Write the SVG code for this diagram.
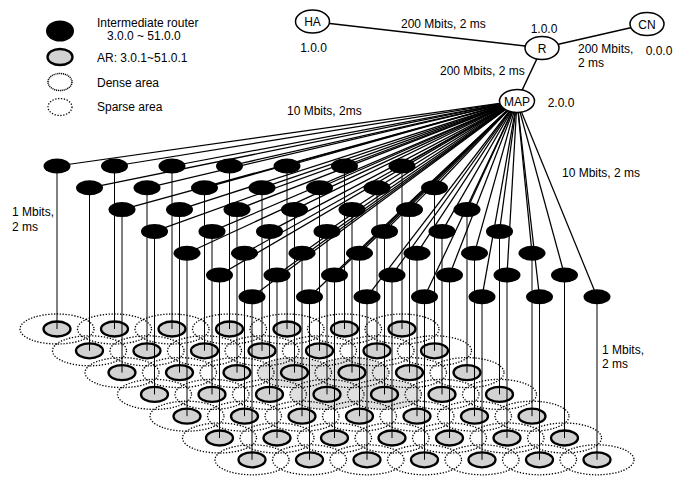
<svg xmlns="http://www.w3.org/2000/svg" xmlns:xlink="http://www.w3.org/1999/xlink" width="688" height="477" viewBox="0 0 688 477">
<style>
text{font-family:"Liberation Sans",Arial,sans-serif;font-size:12px;fill:#000}
.rt{fill:#000}
.ar{fill:#d2d2d2;stroke:#000;stroke-width:2.3}
.area{fill:none;stroke:#000;stroke-width:1.3;stroke-dasharray:1.3 1.6}
.dense{fill:#e0e0e0;stroke:none}
.top{fill:#fff;stroke:#000;stroke-width:1.5}
.cn line{stroke:#000;stroke-width:1.25}
.cn .up{stroke-width:1.5}
.cn .v{stroke-width:1}
</style>
<rect width="688" height="477" fill="#fff"/>

<g id="legend">
<ellipse class="rt" cx="60" cy="31" rx="14" ry="10.5"/>
<text x="97" y="27">Intermediate router</text>
<text x="107" y="40">3.0.0 ~ 51.0.0</text>
<ellipse class="ar" cx="60" cy="57" rx="12.5" ry="8"/>
<text x="97" y="62">AR: 3.0.1~51.0.1</text>
<ellipse cx="60" cy="82" rx="12" ry="8.5" fill="none" stroke="#000" stroke-width="1.5" stroke-dasharray="1.1 0.8"/>
<text x="97" y="87">Dense area</text>
<ellipse class="area" cx="60" cy="107" rx="12" ry="8.5"/>
<text x="97" y="111">Sparse area</text>
</g>

<g id="areas">
<ellipse class="dense" cx="294.5" cy="372.6" rx="37" ry="15"/>
<ellipse class="dense" cx="352" cy="372.6" rx="37" ry="15"/>
<ellipse class="dense" cx="327" cy="394.4" rx="37" ry="15"/>
<ellipse class="dense" cx="384.5" cy="394.4" rx="37" ry="15"/>
<ellipse class="area" cx="57" cy="329" rx="37" ry="15"/><ellipse class="area" cx="114.5" cy="329" rx="37" ry="15"/><ellipse class="area" cx="172" cy="329" rx="37" ry="15"/><ellipse class="area" cx="229.5" cy="329" rx="37" ry="15"/><ellipse class="area" cx="287" cy="329" rx="37" ry="15"/><ellipse class="area" cx="344.5" cy="329" rx="37" ry="15"/><ellipse class="area" cx="402" cy="329" rx="37" ry="15"/>
<ellipse class="area" cx="89.5" cy="350.8" rx="37" ry="15"/><ellipse class="area" cx="147" cy="350.8" rx="37" ry="15"/><ellipse class="area" cx="204.5" cy="350.8" rx="37" ry="15"/><ellipse class="area" cx="262" cy="350.8" rx="37" ry="15"/><ellipse class="area" cx="319.5" cy="350.8" rx="37" ry="15"/><ellipse class="area" cx="377" cy="350.8" rx="37" ry="15"/><ellipse class="area" cx="434.5" cy="350.8" rx="37" ry="15"/>
<ellipse class="area" cx="122" cy="372.6" rx="37" ry="15"/><ellipse class="area" cx="179.5" cy="372.6" rx="37" ry="15"/><ellipse class="area" cx="237" cy="372.6" rx="37" ry="15"/><ellipse class="area" cx="294.5" cy="372.6" rx="37" ry="15"/><ellipse class="area" cx="352" cy="372.6" rx="37" ry="15"/><ellipse class="area" cx="409.5" cy="372.6" rx="37" ry="15"/><ellipse class="area" cx="467" cy="372.6" rx="37" ry="15"/>
<ellipse class="area" cx="154.5" cy="394.4" rx="37" ry="15"/><ellipse class="area" cx="212" cy="394.4" rx="37" ry="15"/><ellipse class="area" cx="269.5" cy="394.4" rx="37" ry="15"/><ellipse class="area" cx="327" cy="394.4" rx="37" ry="15"/><ellipse class="area" cx="384.5" cy="394.4" rx="37" ry="15"/><ellipse class="area" cx="442" cy="394.4" rx="37" ry="15"/><ellipse class="area" cx="499.5" cy="394.4" rx="37" ry="15"/>
<ellipse class="area" cx="187" cy="416.2" rx="37" ry="15"/><ellipse class="area" cx="244.5" cy="416.2" rx="37" ry="15"/><ellipse class="area" cx="302" cy="416.2" rx="37" ry="15"/><ellipse class="area" cx="359.5" cy="416.2" rx="37" ry="15"/><ellipse class="area" cx="417" cy="416.2" rx="37" ry="15"/><ellipse class="area" cx="474.5" cy="416.2" rx="37" ry="15"/><ellipse class="area" cx="532" cy="416.2" rx="37" ry="15"/>
<ellipse class="area" cx="219.5" cy="438" rx="37" ry="15"/><ellipse class="area" cx="277" cy="438" rx="37" ry="15"/><ellipse class="area" cx="334.5" cy="438" rx="37" ry="15"/><ellipse class="area" cx="392" cy="438" rx="37" ry="15"/><ellipse class="area" cx="449.5" cy="438" rx="37" ry="15"/><ellipse class="area" cx="507" cy="438" rx="37" ry="15"/><ellipse class="area" cx="564.5" cy="438" rx="37" ry="15"/>
<ellipse class="area" cx="252" cy="459.8" rx="37" ry="15"/><ellipse class="area" cx="309.5" cy="459.8" rx="37" ry="15"/><ellipse class="area" cx="367" cy="459.8" rx="37" ry="15"/><ellipse class="area" cx="424.5" cy="459.8" rx="37" ry="15"/><ellipse class="area" cx="482" cy="459.8" rx="37" ry="15"/><ellipse class="area" cx="539.5" cy="459.8" rx="37" ry="15"/><ellipse class="area" cx="597" cy="459.8" rx="37" ry="15"/>
</g>

<g id="ars">
<g id="ar-3.0.1"><ellipse class="ar" cx="57" cy="329" rx="13.5" ry="7.5"/></g>
<g id="ar-4.0.1"><ellipse class="ar" cx="114.5" cy="329" rx="13.5" ry="7.5"/></g>
<g id="ar-5.0.1"><ellipse class="ar" cx="172" cy="329" rx="13.5" ry="7.5"/></g>
<g id="ar-6.0.1"><ellipse class="ar" cx="229.5" cy="329" rx="13.5" ry="7.5"/></g>
<g id="ar-7.0.1"><ellipse class="ar" cx="287" cy="329" rx="13.5" ry="7.5"/></g>
<g id="ar-8.0.1"><ellipse class="ar" cx="344.5" cy="329" rx="13.5" ry="7.5"/></g>
<g id="ar-9.0.1"><ellipse class="ar" cx="402" cy="329" rx="13.5" ry="7.5"/></g>
<g id="ar-10.0.1"><ellipse class="ar" cx="89.5" cy="350.8" rx="13.5" ry="7.5"/></g>
<g id="ar-11.0.1"><ellipse class="ar" cx="147" cy="350.8" rx="13.5" ry="7.5"/></g>
<g id="ar-12.0.1"><ellipse class="ar" cx="204.5" cy="350.8" rx="13.5" ry="7.5"/></g>
<g id="ar-13.0.1"><ellipse class="ar" cx="262" cy="350.8" rx="13.5" ry="7.5"/></g>
<g id="ar-14.0.1"><ellipse class="ar" cx="319.5" cy="350.8" rx="13.5" ry="7.5"/></g>
<g id="ar-15.0.1"><ellipse class="ar" cx="377" cy="350.8" rx="13.5" ry="7.5"/></g>
<g id="ar-16.0.1"><ellipse class="ar" cx="434.5" cy="350.8" rx="13.5" ry="7.5"/></g>
<g id="ar-17.0.1"><ellipse class="ar" cx="122" cy="372.6" rx="13.5" ry="7.5"/></g>
<g id="ar-18.0.1"><ellipse class="ar" cx="179.5" cy="372.6" rx="13.5" ry="7.5"/></g>
<g id="ar-19.0.1"><ellipse class="ar" cx="237" cy="372.6" rx="13.5" ry="7.5"/></g>
<g id="ar-20.0.1"><ellipse class="ar" cx="294.5" cy="372.6" rx="13.5" ry="7.5"/></g>
<g id="ar-21.0.1"><ellipse class="ar" cx="352" cy="372.6" rx="13.5" ry="7.5"/></g>
<g id="ar-22.0.1"><ellipse class="ar" cx="409.5" cy="372.6" rx="13.5" ry="7.5"/></g>
<g id="ar-23.0.1"><ellipse class="ar" cx="467" cy="372.6" rx="13.5" ry="7.5"/></g>
<g id="ar-24.0.1"><ellipse class="ar" cx="154.5" cy="394.4" rx="13.5" ry="7.5"/></g>
<g id="ar-25.0.1"><ellipse class="ar" cx="212" cy="394.4" rx="13.5" ry="7.5"/></g>
<g id="ar-26.0.1"><ellipse class="ar" cx="269.5" cy="394.4" rx="13.5" ry="7.5"/></g>
<g id="ar-27.0.1"><ellipse class="ar" cx="327" cy="394.4" rx="13.5" ry="7.5"/></g>
<g id="ar-28.0.1"><ellipse class="ar" cx="384.5" cy="394.4" rx="13.5" ry="7.5"/></g>
<g id="ar-29.0.1"><ellipse class="ar" cx="442" cy="394.4" rx="13.5" ry="7.5"/></g>
<g id="ar-30.0.1"><ellipse class="ar" cx="499.5" cy="394.4" rx="13.5" ry="7.5"/></g>
<g id="ar-31.0.1"><ellipse class="ar" cx="187" cy="416.2" rx="13.5" ry="7.5"/></g>
<g id="ar-32.0.1"><ellipse class="ar" cx="244.5" cy="416.2" rx="13.5" ry="7.5"/></g>
<g id="ar-33.0.1"><ellipse class="ar" cx="302" cy="416.2" rx="13.5" ry="7.5"/></g>
<g id="ar-34.0.1"><ellipse class="ar" cx="359.5" cy="416.2" rx="13.5" ry="7.5"/></g>
<g id="ar-35.0.1"><ellipse class="ar" cx="417" cy="416.2" rx="13.5" ry="7.5"/></g>
<g id="ar-36.0.1"><ellipse class="ar" cx="474.5" cy="416.2" rx="13.5" ry="7.5"/></g>
<g id="ar-37.0.1"><ellipse class="ar" cx="532" cy="416.2" rx="13.5" ry="7.5"/></g>
<g id="ar-38.0.1"><ellipse class="ar" cx="219.5" cy="438" rx="13.5" ry="7.5"/></g>
<g id="ar-39.0.1"><ellipse class="ar" cx="277" cy="438" rx="13.5" ry="7.5"/></g>
<g id="ar-40.0.1"><ellipse class="ar" cx="334.5" cy="438" rx="13.5" ry="7.5"/></g>
<g id="ar-41.0.1"><ellipse class="ar" cx="392" cy="438" rx="13.5" ry="7.5"/></g>
<g id="ar-42.0.1"><ellipse class="ar" cx="449.5" cy="438" rx="13.5" ry="7.5"/></g>
<g id="ar-43.0.1"><ellipse class="ar" cx="507" cy="438" rx="13.5" ry="7.5"/></g>
<g id="ar-44.0.1"><ellipse class="ar" cx="564.5" cy="438" rx="13.5" ry="7.5"/></g>
<g id="ar-45.0.1"><ellipse class="ar" cx="252" cy="459.8" rx="13.5" ry="7.5"/></g>
<g id="ar-46.0.1"><ellipse class="ar" cx="309.5" cy="459.8" rx="13.5" ry="7.5"/></g>
<g id="ar-47.0.1"><ellipse class="ar" cx="367" cy="459.8" rx="13.5" ry="7.5"/></g>
<g id="ar-48.0.1"><ellipse class="ar" cx="424.5" cy="459.8" rx="13.5" ry="7.5"/></g>
<g id="ar-49.0.1"><ellipse class="ar" cx="482" cy="459.8" rx="13.5" ry="7.5"/></g>
<g id="ar-50.0.1"><ellipse class="ar" cx="539.5" cy="459.8" rx="13.5" ry="7.5"/></g>
<g id="ar-51.0.1"><ellipse class="ar" cx="597" cy="459.8" rx="13.5" ry="7.5"/></g>
</g>

<g id="connectors" class="cn">
<line class="up" x1="312.5" y1="21.5" x2="542" y2="48"/>
<line class="up" x1="542" y1="48" x2="647" y2="24"/>
<line class="up" x1="542" y1="48" x2="517" y2="101"/>
<line x1="517" y1="101" x2="57" y2="166"/><line x1="517" y1="101" x2="114.5" y2="166"/><line x1="517" y1="101" x2="172" y2="166"/><line x1="517" y1="101" x2="229.5" y2="166"/><line x1="517" y1="101" x2="287" y2="166"/><line x1="517" y1="101" x2="344.5" y2="166"/><line x1="517" y1="101" x2="402" y2="166"/>
<line x1="517" y1="101" x2="89.5" y2="187.8"/><line x1="517" y1="101" x2="147" y2="187.8"/><line x1="517" y1="101" x2="204.5" y2="187.8"/><line x1="517" y1="101" x2="262" y2="187.8"/><line x1="517" y1="101" x2="319.5" y2="187.8"/><line x1="517" y1="101" x2="377" y2="187.8"/><line x1="517" y1="101" x2="434.5" y2="187.8"/>
<line x1="517" y1="101" x2="122" y2="209.6"/><line x1="517" y1="101" x2="179.5" y2="209.6"/><line x1="517" y1="101" x2="237" y2="209.6"/><line x1="517" y1="101" x2="294.5" y2="209.6"/><line x1="517" y1="101" x2="352" y2="209.6"/><line x1="517" y1="101" x2="409.5" y2="209.6"/><line x1="517" y1="101" x2="467" y2="209.6"/>
<line x1="517" y1="101" x2="154.5" y2="231.4"/><line x1="517" y1="101" x2="212" y2="231.4"/><line x1="517" y1="101" x2="269.5" y2="231.4"/><line x1="517" y1="101" x2="327" y2="231.4"/><line x1="517" y1="101" x2="384.5" y2="231.4"/><line x1="517" y1="101" x2="442" y2="231.4"/><line x1="517" y1="101" x2="499.5" y2="231.4"/>
<line x1="517" y1="101" x2="187" y2="253.2"/><line x1="517" y1="101" x2="244.5" y2="253.2"/><line x1="517" y1="101" x2="302" y2="253.2"/><line x1="517" y1="101" x2="359.5" y2="253.2"/><line x1="517" y1="101" x2="417" y2="253.2"/><line x1="517" y1="101" x2="474.5" y2="253.2"/><line x1="517" y1="101" x2="532" y2="253.2"/>
<line x1="517" y1="101" x2="219.5" y2="275"/><line x1="517" y1="101" x2="277" y2="275"/><line x1="517" y1="101" x2="334.5" y2="275"/><line x1="517" y1="101" x2="392" y2="275"/><line x1="517" y1="101" x2="449.5" y2="275"/><line x1="517" y1="101" x2="507" y2="275"/><line x1="517" y1="101" x2="564.5" y2="275"/>
<line x1="517" y1="101" x2="252" y2="296.8"/><line x1="517" y1="101" x2="309.5" y2="296.8"/><line x1="517" y1="101" x2="367" y2="296.8"/><line x1="517" y1="101" x2="424.5" y2="296.8"/><line x1="517" y1="101" x2="482" y2="296.8"/><line x1="517" y1="101" x2="539.5" y2="296.8"/><line x1="517" y1="101" x2="597" y2="296.8"/>
<line class="v" x1="57" y1="166" x2="57" y2="329"/><line class="v" x1="114.5" y1="166" x2="114.5" y2="329"/><line class="v" x1="172" y1="166" x2="172" y2="329"/><line class="v" x1="229.5" y1="166" x2="229.5" y2="329"/><line class="v" x1="287" y1="166" x2="287" y2="329"/><line class="v" x1="344.5" y1="166" x2="344.5" y2="329"/><line class="v" x1="402" y1="166" x2="402" y2="329"/>
<line class="v" x1="89.5" y1="187.8" x2="89.5" y2="350.8"/><line class="v" x1="147" y1="187.8" x2="147" y2="350.8"/><line class="v" x1="204.5" y1="187.8" x2="204.5" y2="350.8"/><line class="v" x1="262" y1="187.8" x2="262" y2="350.8"/><line class="v" x1="319.5" y1="187.8" x2="319.5" y2="350.8"/><line class="v" x1="377" y1="187.8" x2="377" y2="350.8"/><line class="v" x1="434.5" y1="187.8" x2="434.5" y2="350.8"/>
<line class="v" x1="122" y1="209.6" x2="122" y2="372.6"/><line class="v" x1="179.5" y1="209.6" x2="179.5" y2="372.6"/><line class="v" x1="237" y1="209.6" x2="237" y2="372.6"/><line class="v" x1="294.5" y1="209.6" x2="294.5" y2="372.6"/><line class="v" x1="352" y1="209.6" x2="352" y2="372.6"/><line class="v" x1="409.5" y1="209.6" x2="409.5" y2="372.6"/><line class="v" x1="467" y1="209.6" x2="467" y2="372.6"/>
<line class="v" x1="154.5" y1="231.4" x2="154.5" y2="394.4"/><line class="v" x1="212" y1="231.4" x2="212" y2="394.4"/><line class="v" x1="269.5" y1="231.4" x2="269.5" y2="394.4"/><line class="v" x1="327" y1="231.4" x2="327" y2="394.4"/><line class="v" x1="384.5" y1="231.4" x2="384.5" y2="394.4"/><line class="v" x1="442" y1="231.4" x2="442" y2="394.4"/><line class="v" x1="499.5" y1="231.4" x2="499.5" y2="394.4"/>
<line class="v" x1="187" y1="253.2" x2="187" y2="416.2"/><line class="v" x1="244.5" y1="253.2" x2="244.5" y2="416.2"/><line class="v" x1="302" y1="253.2" x2="302" y2="416.2"/><line class="v" x1="359.5" y1="253.2" x2="359.5" y2="416.2"/><line class="v" x1="417" y1="253.2" x2="417" y2="416.2"/><line class="v" x1="474.5" y1="253.2" x2="474.5" y2="416.2"/><line class="v" x1="532" y1="253.2" x2="532" y2="416.2"/>
<line class="v" x1="219.5" y1="275" x2="219.5" y2="438"/><line class="v" x1="277" y1="275" x2="277" y2="438"/><line class="v" x1="334.5" y1="275" x2="334.5" y2="438"/><line class="v" x1="392" y1="275" x2="392" y2="438"/><line class="v" x1="449.5" y1="275" x2="449.5" y2="438"/><line class="v" x1="507" y1="275" x2="507" y2="438"/><line class="v" x1="564.5" y1="275" x2="564.5" y2="438"/>
<line class="v" x1="252" y1="296.8" x2="252" y2="459.8"/><line class="v" x1="309.5" y1="296.8" x2="309.5" y2="459.8"/><line class="v" x1="367" y1="296.8" x2="367" y2="459.8"/><line class="v" x1="424.5" y1="296.8" x2="424.5" y2="459.8"/><line class="v" x1="482" y1="296.8" x2="482" y2="459.8"/><line class="v" x1="539.5" y1="296.8" x2="539.5" y2="459.8"/><line class="v" x1="597" y1="296.8" x2="597" y2="459.8"/>
</g>

<g id="link-labels">
<text x="401" y="28">200 Mbits, 2 ms</text>
<text x="578" y="53">200 Mbits,</text>
<text x="578" y="67">2 ms</text>
<text x="440" y="75">200 Mbits, 2 ms</text>
<text x="287" y="115">10 Mbits, 2ms</text>
<text x="562" y="177">10 Mbits, 2 ms</text>
<text x="12" y="216">1 Mbits,</text>
<text x="12" y="231">2 ms</text>
<text x="602" y="354">1 Mbits,</text>
<text x="602" y="368">2 ms</text>
</g>

<g id="routers">
<g id="router-3.0.0"><ellipse class="rt" cx="57" cy="166" rx="13.5" ry="7.5"/></g>
<g id="router-4.0.0"><ellipse class="rt" cx="114.5" cy="166" rx="13.5" ry="7.5"/></g>
<g id="router-5.0.0"><ellipse class="rt" cx="172" cy="166" rx="13.5" ry="7.5"/></g>
<g id="router-6.0.0"><ellipse class="rt" cx="229.5" cy="166" rx="13.5" ry="7.5"/></g>
<g id="router-7.0.0"><ellipse class="rt" cx="287" cy="166" rx="13.5" ry="7.5"/></g>
<g id="router-8.0.0"><ellipse class="rt" cx="344.5" cy="166" rx="13.5" ry="7.5"/></g>
<g id="router-9.0.0"><ellipse class="rt" cx="402" cy="166" rx="13.5" ry="7.5"/></g>
<g id="router-10.0.0"><ellipse class="rt" cx="89.5" cy="187.8" rx="13.5" ry="7.5"/></g>
<g id="router-11.0.0"><ellipse class="rt" cx="147" cy="187.8" rx="13.5" ry="7.5"/></g>
<g id="router-12.0.0"><ellipse class="rt" cx="204.5" cy="187.8" rx="13.5" ry="7.5"/></g>
<g id="router-13.0.0"><ellipse class="rt" cx="262" cy="187.8" rx="13.5" ry="7.5"/></g>
<g id="router-14.0.0"><ellipse class="rt" cx="319.5" cy="187.8" rx="13.5" ry="7.5"/></g>
<g id="router-15.0.0"><ellipse class="rt" cx="377" cy="187.8" rx="13.5" ry="7.5"/></g>
<g id="router-16.0.0"><ellipse class="rt" cx="434.5" cy="187.8" rx="13.5" ry="7.5"/></g>
<g id="router-17.0.0"><ellipse class="rt" cx="122" cy="209.6" rx="13.5" ry="7.5"/></g>
<g id="router-18.0.0"><ellipse class="rt" cx="179.5" cy="209.6" rx="13.5" ry="7.5"/></g>
<g id="router-19.0.0"><ellipse class="rt" cx="237" cy="209.6" rx="13.5" ry="7.5"/></g>
<g id="router-20.0.0"><ellipse class="rt" cx="294.5" cy="209.6" rx="13.5" ry="7.5"/></g>
<g id="router-21.0.0"><ellipse class="rt" cx="352" cy="209.6" rx="13.5" ry="7.5"/></g>
<g id="router-22.0.0"><ellipse class="rt" cx="409.5" cy="209.6" rx="13.5" ry="7.5"/></g>
<g id="router-23.0.0"><ellipse class="rt" cx="467" cy="209.6" rx="13.5" ry="7.5"/></g>
<g id="router-24.0.0"><ellipse class="rt" cx="154.5" cy="231.4" rx="13.5" ry="7.5"/></g>
<g id="router-25.0.0"><ellipse class="rt" cx="212" cy="231.4" rx="13.5" ry="7.5"/></g>
<g id="router-26.0.0"><ellipse class="rt" cx="269.5" cy="231.4" rx="13.5" ry="7.5"/></g>
<g id="router-27.0.0"><ellipse class="rt" cx="327" cy="231.4" rx="13.5" ry="7.5"/></g>
<g id="router-28.0.0"><ellipse class="rt" cx="384.5" cy="231.4" rx="13.5" ry="7.5"/></g>
<g id="router-29.0.0"><ellipse class="rt" cx="442" cy="231.4" rx="13.5" ry="7.5"/></g>
<g id="router-30.0.0"><ellipse class="rt" cx="499.5" cy="231.4" rx="13.5" ry="7.5"/></g>
<g id="router-31.0.0"><ellipse class="rt" cx="187" cy="253.2" rx="13.5" ry="7.5"/></g>
<g id="router-32.0.0"><ellipse class="rt" cx="244.5" cy="253.2" rx="13.5" ry="7.5"/></g>
<g id="router-33.0.0"><ellipse class="rt" cx="302" cy="253.2" rx="13.5" ry="7.5"/></g>
<g id="router-34.0.0"><ellipse class="rt" cx="359.5" cy="253.2" rx="13.5" ry="7.5"/></g>
<g id="router-35.0.0"><ellipse class="rt" cx="417" cy="253.2" rx="13.5" ry="7.5"/></g>
<g id="router-36.0.0"><ellipse class="rt" cx="474.5" cy="253.2" rx="13.5" ry="7.5"/></g>
<g id="router-37.0.0"><ellipse class="rt" cx="532" cy="253.2" rx="13.5" ry="7.5"/></g>
<g id="router-38.0.0"><ellipse class="rt" cx="219.5" cy="275" rx="13.5" ry="7.5"/></g>
<g id="router-39.0.0"><ellipse class="rt" cx="277" cy="275" rx="13.5" ry="7.5"/></g>
<g id="router-40.0.0"><ellipse class="rt" cx="334.5" cy="275" rx="13.5" ry="7.5"/></g>
<g id="router-41.0.0"><ellipse class="rt" cx="392" cy="275" rx="13.5" ry="7.5"/></g>
<g id="router-42.0.0"><ellipse class="rt" cx="449.5" cy="275" rx="13.5" ry="7.5"/></g>
<g id="router-43.0.0"><ellipse class="rt" cx="507" cy="275" rx="13.5" ry="7.5"/></g>
<g id="router-44.0.0"><ellipse class="rt" cx="564.5" cy="275" rx="13.5" ry="7.5"/></g>
<g id="router-45.0.0"><ellipse class="rt" cx="252" cy="296.8" rx="13.5" ry="7.5"/></g>
<g id="router-46.0.0"><ellipse class="rt" cx="309.5" cy="296.8" rx="13.5" ry="7.5"/></g>
<g id="router-47.0.0"><ellipse class="rt" cx="367" cy="296.8" rx="13.5" ry="7.5"/></g>
<g id="router-48.0.0"><ellipse class="rt" cx="424.5" cy="296.8" rx="13.5" ry="7.5"/></g>
<g id="router-49.0.0"><ellipse class="rt" cx="482" cy="296.8" rx="13.5" ry="7.5"/></g>
<g id="router-50.0.0"><ellipse class="rt" cx="539.5" cy="296.8" rx="13.5" ry="7.5"/></g>
<g id="router-51.0.0"><ellipse class="rt" cx="597" cy="296.8" rx="13.5" ry="7.5"/></g>
</g>

<g id="HA"><ellipse class="top" cx="312.5" cy="21.5" rx="17" ry="11.5"/><text x="312.5" y="26" text-anchor="middle">HA</text><text x="313.5" y="52" text-anchor="middle">1.0.0</text></g>
<g id="R"><ellipse class="top" cx="542" cy="48" rx="17" ry="11.5"/><text x="542" y="52.5" text-anchor="middle">R</text><text x="544" y="33" text-anchor="middle">1.0.0</text></g>
<g id="CN"><ellipse class="top" cx="647" cy="24" rx="17" ry="11.5"/><text x="647" y="28.5" text-anchor="middle">CN</text><text x="659" y="55" text-anchor="middle">0.0.0</text></g>
<g id="MAP"><ellipse class="top" cx="517" cy="101" rx="17.5" ry="11.5"/><text x="517" y="105.5" text-anchor="middle">MAP</text><text x="561" y="107" text-anchor="middle">2.0.0</text></g>
</svg>
